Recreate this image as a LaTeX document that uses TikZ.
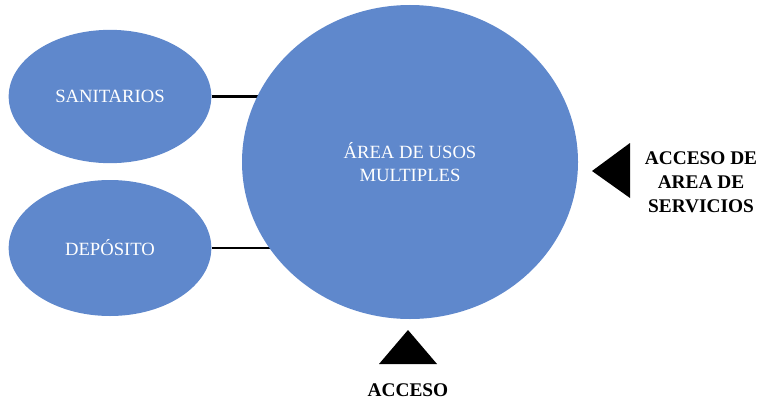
\documentclass[tikz,border=0pt]{standalone}
\usepackage{fontspec}
\setmainfont{Liberation Serif}
\usetikzlibrary{positioning, shapes.geometric, backgrounds}
\definecolor{zonablue}{HTML}{5F88CC}

\begin{document}
\begin{tikzpicture}[x=0.75pt, y=-0.75pt,
	zona/.style={ellipse, fill=zonablue, draw=none, text=white, inner sep=0pt, font=\fontsize{14}{17.5}\selectfont, align=center},
	enlace/.style={line width=2.2pt, black},
	flecha/.style={fill=black},
	rotulo/.style={font=\bfseries\fontsize{14.5}{18}\selectfont, align=center, inner sep=0pt}]
	% --- MARCO ---
	\useasboundingbox (0,0) rectangle (762,403);
	
	% Zonas (elipses)
	\node[zona, minimum width=152pt, minimum height=100pt] (san) at (110,96.5) {SANITARIOS};
	\node[zona, minimum width=152pt, minimum height=102pt] (dep) at (110,248) {DEPÓSITO};
	\node[zona, minimum width=252pt, minimum height=235.5pt] (area) at (410,162) {ÁREA DE USOS\\MULTIPLES};
	
	% Enlaces (detras de las zonas)
	\begin{scope}[on background layer]
		\draw[enlace] (san.east) -- (san.east -| area.center);
		\draw[enlace] (dep.east) -- (dep.east -| area.center);
	\end{scope}
	
	% Accesos (triangulos)
	\coordinate (puntaR) at (592,171);
	\coordinate (puntaB) at (408,330);
	\fill[flecha] (puntaR) -- ++(38,-28) -- ++(0,55) -- cycle;
	\fill[flecha] (puntaB) -- ++(29,34) -- ++(-58,0) -- cycle;
	
	% Rotulos
	\node[rotulo] (servicios) at (701,182.5) {ACCESO DE\\AREA DE\\SERVICIOS};
	\node[rotulo] (acceso) at (408,390) {ACCESO};
\end{tikzpicture}
\end{document}
